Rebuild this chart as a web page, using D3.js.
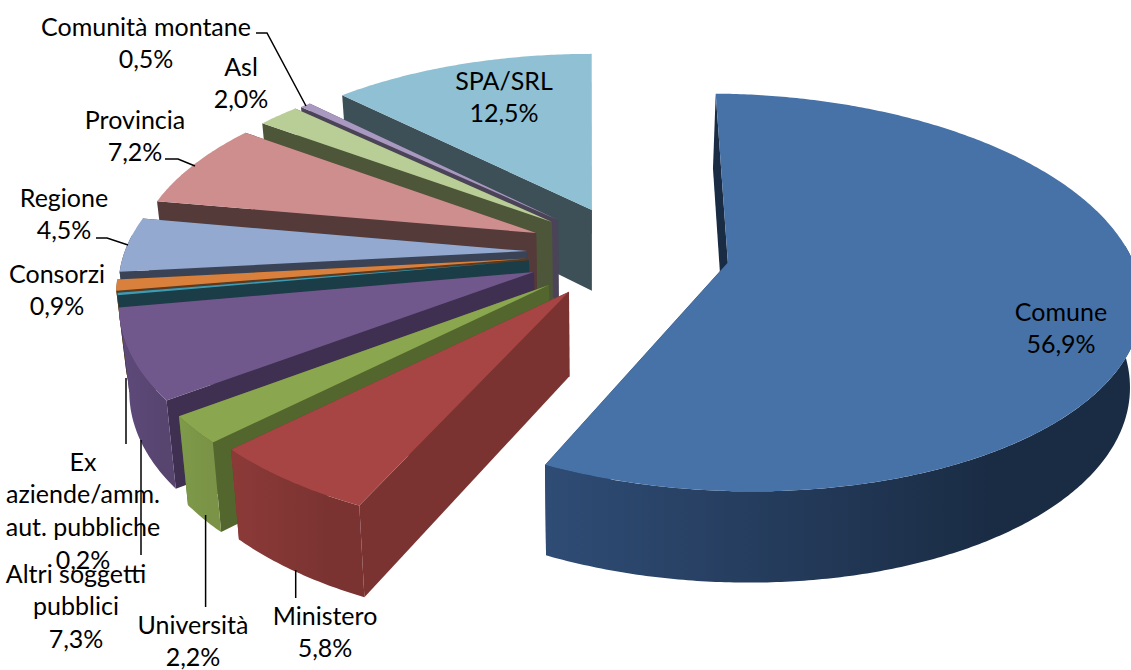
<!DOCTYPE html>
<html><head><meta charset="utf-8">
<style>html,body{margin:0;padding:0;background:#fff}svg{display:block}text{font-family:Lato,"Open Sans",sans-serif;font-size:25px;fill:#000}</style>
<script src="https://cdn.jsdelivr.net/npm/d3@7"></script></head><body>
<svg id="c" width="1131" height="670"></svg>
<script>
// ---- data
const categories = ["Comune","Ministero","Università","Altri soggetti pubblici","Ex aziende/amm. aut. pubbliche","Consorzi","Regione","Provincia","Asl","Comunità montane","SPA/SRL"];
const values = [56.9,5.8,2.2,7.3,0.2,0.9,4.5,7.2,2.0,0.5,12.5];
const labelLines = [["Comune"],["Ministero"],["Università"],["Altri soggetti","pubblici"],["Ex","aziende/amm.","aut. pubbliche"],["Consorzi"],["Regione"],["Provincia"],["Asl"],["Comunità montane"],["SPA/SRL"]];
// ---- styles
const topColors  = ["#4672a8","#a64543","#8aa64e","#70578c","#3f9bb3","#d9813c","#93a9cf","#ce8e8d","#b9cd96","#a999c1","#8fc0d3"];
const wallColors = ["#1a2c44","#7a3331","#53662e","#3f2f50","#1b3d47","#5a3a20","#3a4356","#553a3a","#4e5639","#4b4458","#3d4f57"];
const rimLeft    = ["#2f4c75","#8c3a38","#7f9a4a","#5f4b7c","#1b3d47","#5a3a20","#3a4356","#553a3a","#4e5639","#4b4458","#7fa7b5"];
const rimRight   = ["#1a2c44","#7a3331","#7a9346","#57446f","#1b3d47","#5a3a20","#3a4356","#553a3a","#4e5639","#4b4458","#7fa7b5"];
// ---- layout: explosion of each slice in the pie's plane, projection constants
const explodeX = [137.6,-20.5,-40.2,-55.5,-61,-63,-63.4,-55,-39.2,-33,2];
const explodeY = [5,65,51.3,24.8,1,-3,-18.7,-57.7,-81.9,-86.4,-108.9];
const twist = [0.017,0.008,0,0,0,0,0,0,0,0,0];
const radius = 405, vx = 590, y0 = 260, tilt = 0.478, persp = 0.000373, taper = 0.022;
const rimFrom = 85*Math.PI/180, rimTo = 275*Math.PI/180;
const labelX = [1061,325,193,76,83,57,64,135,241,146,504];
const labelY = [312,616,625,574,462,274,198,120,67,27,81];
const leaderLines = [
 [[256,33],[267,33],[306,106]],
 [[165,159],[178,159],[195,166]],
 [[96,238],[107,238],[128,245]],
 [[126,378],[126,444]],
 [[141,440],[141,555]],
 [[205.6,515],[205.6,607]],
 [[295.7,570],[295.7,598]]
];

const svg = d3.select("#c");
const defs = svg.append("defs");
const pie = d3.pie().sort(null).value(d=>d).startAngle(0).endAngle(2*Math.PI);
const arcs = pie(values);
const line = d3.line();

function project(X,Y,bottom){
  const den = 1 - persp*Y;
  let sx = vx + X/den, sy = y0 + tilt*Y/den;
  if(bottom){ sx += (vx-sx)*taper; sy += 90 - 54*(den-0.87); }
  return [sx,sy];
}
function rim(i,a){ return [explodeX[i]+radius*Math.sin(a), explodeY[i]-radius*Math.cos(a)]; }
function arcPts(i,a0,a1,bottom){
  const n = Math.max(2,Math.ceil((a1-a0)/0.01));
  return d3.range(n+1).map(k=>{ const p=rim(i,a0+(a1-a0)*k/n); return project(p[0],p[1],bottom); });
}
function apex(i,bottom){ return project(explodeX[i],explodeY[i],bottom); }

// painter's order: far slices first
const order = [0,10,9,8,7,6,5,4,3,2,1];
order.forEach(i=>{
  const a0 = arcs[i].startAngle+twist[i], a1 = arcs[i].endAngle+twist[i], g = svg.append("g").attr("class","slice");
  const grad = defs.append("linearGradient").attr("id","rim"+i).attr("x1",0).attr("x2",1).attr("y1",0).attr("y2",0);
  grad.append("stop").attr("offset",0).attr("stop-color",rimLeft[i]);
  grad.append("stop").attr("offset",0.75).attr("stop-color",rimRight[i]);
  const wall = (pts,fill)=>g.append("path").attr("d",line(pts)+"Z").attr("fill",fill);
  // end-angle radial wall
  wall([apex(i),arcPts(i,a1,a1,false)[0],arcPts(i,a1,a1,true)[0],apex(i,true)], i===10?rimRight[i]:wallColors[i]);
  // start-angle radial wall
  wall([apex(i),arcPts(i,a0,a0,false)[0],arcPts(i,a0,a0,true)[0],apex(i,true)], wallColors[i]);
  // outer rim: only the part that faces the viewer
  const r0 = Math.max(a0,rimFrom), r1 = Math.min(a1,rimTo);
  if(r1>r0) wall(arcPts(i,r0,r1,false).concat(arcPts(i,r0,r1,true).reverse()), "url(#rim"+i+")");
  // top face
  wall([apex(i)].concat(arcPts(i,a0,a1,false)), topColors[i]);
});

// leaders
svg.append("g").selectAll("path").data(leaderLines).join("path")
  .attr("d",d=>line(d)).attr("fill","none").attr("stroke","#000").attr("stroke-width",1.5);

// labels
const fmt = v=>d3.format(".1f")(v).replace(".",",")+"%";
const gap = 32.6;
categories.forEach((c,i)=>{
  const lines = labelLines[i].concat([fmt(values[i])]);
  const t = svg.append("text").attr("text-anchor","middle");
  lines.forEach((s,k)=>t.append("tspan").attr("x",labelX[i]).attr("y",labelY[i]+k*gap).attr("dy","0.35em").text(s));
});
</script></body></html>
